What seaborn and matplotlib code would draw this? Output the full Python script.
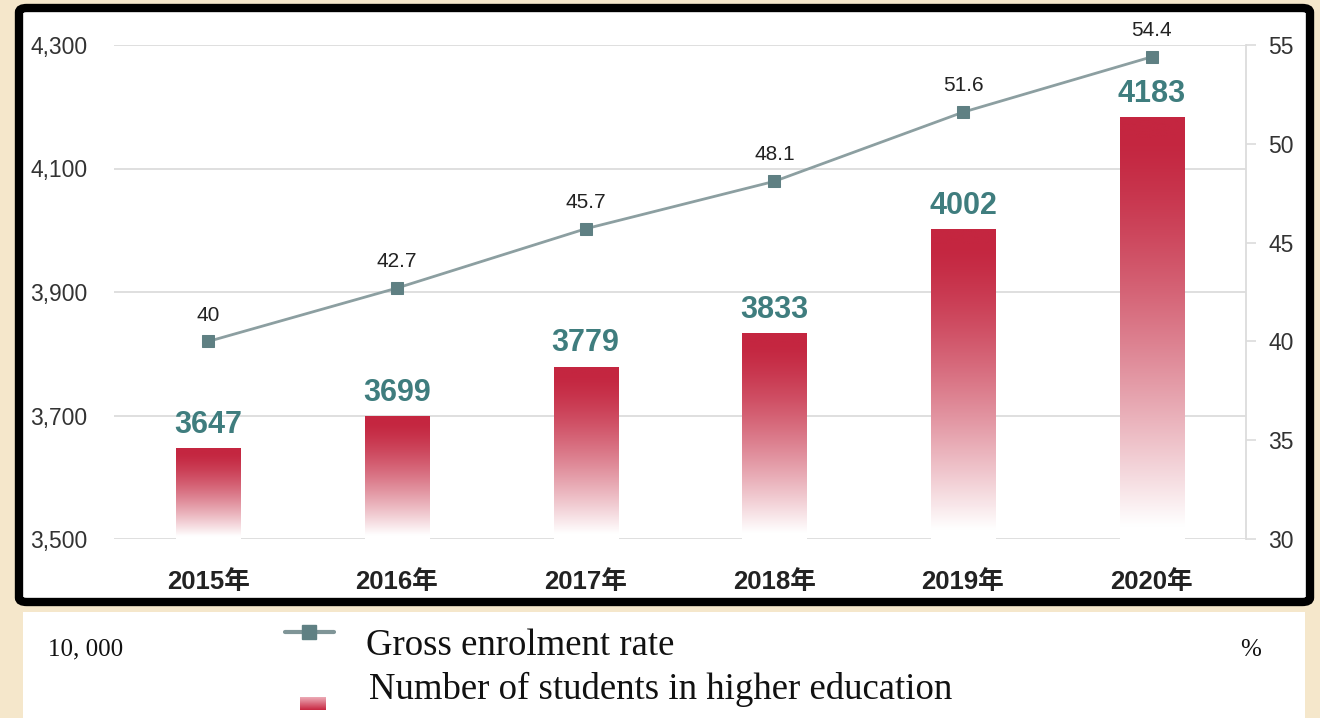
import numpy as np
import matplotlib
matplotlib.use("Agg")
import matplotlib.pyplot as plt
from matplotlib.patches import FancyBboxPatch, Rectangle
from matplotlib.lines import Line2D
from matplotlib.ticker import FuncFormatter, FixedLocator
import seaborn as sns

# ---- data -------------------------------------------------------------
years = ["2015年", "2016年", "2017年", "2018年", "2019年", "2020年"]
students = [3647, 3699, 3779, 3833, 4002, 4183]      # 10,000 persons
enrol_rate = [40, 42.7, 45.7, 48.1, 51.6, 54.4]        # %
left_ticks = [3500, 3700, 3900, 4100, 4300]
right_ticks = [30, 35, 40, 45, 50, 55]

# ---- styling ----------------------------------------------------------
sns.set_style("white")
plt.rcParams["font.family"] = ["Liberation Sans", "Noto Sans CJK SC", "DejaVu Sans"]

W, H = 1320, 718
BG = "#f5e7cb"
BAR_TOP = np.array([196, 38, 64]) / 255.0
TEAL = "#3f7d7e"
LINE_C = "#8c9fa1"
MARK_C = "#5f8083"
GRID_C = "#dcdcdc"

fig = plt.figure(figsize=(W / 100, H / 100), dpi=100)
fig.patch.set_facecolor(BG)


def fx(px):
    return px / W


def fy(py):
    return (H - py) / H


# framed white panel that holds the chart
frame = FancyBboxPatch((fx(19), fy(602)), fx(1310) - fx(19), fy(8) - fy(602),
                       boxstyle="round,pad=0,rounding_size=0.006",
                       transform=fig.transFigure, facecolor="white",
                       edgecolor="black", linewidth=6.0, zorder=-10)
fig.patches.append(frame)

# white strip for the caption / legend
strip = Rectangle((fx(23), 0), fx(1305) - fx(23), fy(612), transform=fig.transFigure,
                  facecolor="white", edgecolor="none", zorder=-10)
fig.patches.append(strip)

ax = fig.add_axes([fx(114), fy(539), fx(1246) - fx(114), fy(45) - fy(539)])
ax.set_facecolor("none")

sns.barplot(x=years, y=students, ax=ax, width=0.34, color="white",
            edgecolor="none", linewidth=0, saturation=1)
ax.set_ylim(left_ticks[0], left_ticks[-1])
ax.set_xlim(-0.5, len(years) - 0.5)

# vertical red-to-white gradient inside every bar
ramp = np.linspace(0, 1, 256)[:, None]
fade = np.clip((ramp - 0.05) / 0.92, 0, 1) ** 1.35
grad = BAR_TOP[None, None, :] * (1 - fade[..., None]) + np.ones(3)[None, None, :] * fade[..., None]
for patch, val in zip(ax.patches, students):
    x0 = patch.get_x()
    w = patch.get_width()
    im = ax.imshow(grad, extent=[x0, x0 + w, left_ticks[0], val], aspect="auto",
                   origin="upper", zorder=2, interpolation="bilinear")
    im.set_clip_path(patch)
    patch.set_facecolor("none")
    ax.annotate(f"{val}", (x0 + w / 2, val), xytext=(0, 11), textcoords="offset points",
                ha="center", va="baseline", fontsize=22, fontweight="bold", color=TEAL,
                zorder=5)

ax.yaxis.set_major_locator(FixedLocator(left_ticks))
ax.yaxis.set_major_formatter(FuncFormatter(lambda v, p: f"{int(v):,}"))
ax.grid(axis="y", color=GRID_C, linewidth=1.3)
ax.set_axisbelow(True)
for s in ["left", "top", "right", "bottom"]:
    ax.spines[s].set_visible(False)
ax.tick_params(axis="y", length=0, pad=19, labelsize=16.5, labelcolor="#333333")
ax.tick_params(axis="x", length=0, pad=22, labelsize=18.5)
for lab in ax.get_xticklabels():
    lab.set_fontweight("bold")
    lab.set_color("#222222")
    lab.set_family(["Liberation Sans", "Noto Sans CJK SC"])
ax.set_xticks(np.arange(len(years)) + 0.5, minor=True)
ax.tick_params(axis="x", which="minor", length=5, color=GRID_C, width=1)
ax.set_xlabel("")
ax.set_ylabel("")

# enrolment rate on the secondary axis
ax2 = ax.twinx()
ax2.set_facecolor("none")
xs = np.arange(len(years))
sns.lineplot(x=xs, y=enrol_rate, ax=ax2, color=LINE_C, linewidth=2.0, marker="s",
             markersize=9, markerfacecolor=MARK_C, markeredgecolor=MARK_C, zorder=4)
ax2.set_ylim(right_ticks[0], right_ticks[-1])
ax2.yaxis.set_major_locator(FixedLocator(right_ticks))
for xv, yv in zip(xs, enrol_rate):
    ax2.annotate(f"{yv:g}", (xv, yv), xytext=(0, 19), textcoords="offset points",
                 ha="center", va="center", fontsize=15, color="#222222", zorder=5)
for s in ["left", "top", "bottom"]:
    ax2.spines[s].set_visible(False)
ax2.spines["right"].set_color(GRID_C)
ax2.spines["right"].set_linewidth(1.3)
ax2.tick_params(axis="y", length=7, width=1.2, color=GRID_C, pad=9,
                labelsize=16.5, labelcolor="#333333")
ax2.set_ylabel("")
ax2.grid(False)

# caption and legend below the panel
serif = ["Liberation Serif", "DejaVu Serif"]
fig.text(fx(48), fy(649), "10, 000", fontsize=18, family=serif, va="center", color="#111111")
fig.text(fx(1240), fy(650), "%", fontsize=18, family=serif, va="center", color="#111111")
fig.text(fx(366), fy(646), "Gross enrolment rate", fontsize=26.5, family=serif,
         va="center", color="#111111")
fig.text(fx(369), fy(689), "Number of students in higher education", fontsize=26.5,
         family=serif, va="center", color="#111111")

fig.lines.append(Line2D([fx(285), fx(334)], [fy(632), fy(632)], transform=fig.transFigure,
                        color="#7f9597", linewidth=3))
fig.lines.append(Line2D([fx(309)], [fy(632)], transform=fig.transFigure, marker="s",
                        markersize=10, color=MARK_C, linestyle="none"))

leg_ax = fig.add_axes([fx(300), fy(710), fx(326) - fx(300), fy(697) - fy(710)])
swatch = np.linspace(0, 1, 32)[:, None]
sw_grad = (np.array([236, 170, 182]) / 255)[None, None, :] * (1 - swatch[..., None]) + \
          (np.array([200, 40, 66]) / 255)[None, None, :] * swatch[..., None]
leg_ax.imshow(sw_grad, aspect="auto", extent=[0, 1, 0, 1], origin="upper")
leg_ax.set_axis_off()

fig.savefig("out.png", dpi=100, facecolor=fig.get_facecolor())
